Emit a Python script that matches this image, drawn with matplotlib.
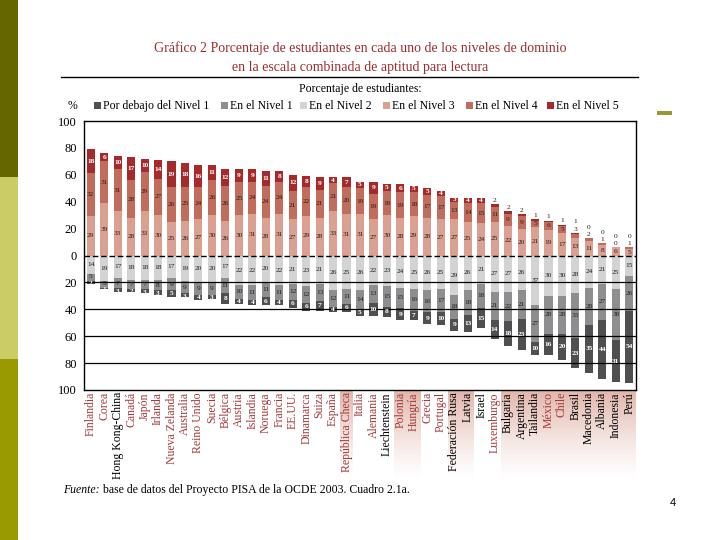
import numpy as np
import matplotlib
matplotlib.use("Agg")
import matplotlib.pyplot as plt
from matplotlib.patches import Rectangle
from matplotlib.lines import Line2D

# Data (percent of students per reading level)
countries = ["Finlandia", "Corea", "Hong Kong-China", "Canadá", "Japón", "Irlanda",
             "Nueva Zelanda", "Australia", "Reino Unido", "Suecia", "Bélgica", "Austria",
             "Islandia", "Noruega", "Francia", "EE.UU.", "Dinamarca", "Suiza", "España",
             "República Checa", "Italia", "Alemania", "Liechtenstein", "Polonia", "Hungría",
             "Grecia", "Portugal", "Federación Rusa", "Latvia", "Israel", "Luxemburgo",
             "Bulgaria", "Argentina", "Tailandia", "México", "Chile", "Brasil", "Macedonia",
             "Albania", "Indonesia", "Perú"]
nivel5 = [18, 6, 10, 17, 10, 14, 19, 18, 16, 11, 12, 9, 9, 11, 8, 12, 8, 9, 4, 7, 5,
          9, 5, 6, 5, 5, 4, 3, 4, 4, 2, 2, 2, 1, 1, 1, 1, 0, 0, 0, 0]
nivel4 = [32, 31, 31, 28, 29, 27, 26, 25, 24, 26, 26, 25, 24, 24, 24, 21, 22, 21, 21, 20, 19,
          19, 18, 19, 18, 17, 17, 13, 14, 15, 11, 9, 9, 5, 6, 5, 3, 2, 1, 0, 1]
nivel3 = [29, 39, 33, 28, 33, 30, 25, 26, 27, 30, 26, 30, 31, 28, 31, 27, 29, 28, 33, 31, 31,
          27, 30, 28, 29, 28, 27, 27, 25, 24, 25, 22, 20, 21, 19, 17, 13, 11, 8, 6, 5]
nivel2 = [14, 19, 17, 18, 18, 18, 17, 19, 20, 20, 17, 22, 22, 20, 22, 21, 23, 21, 26, 25, 26,
          22, 23, 24, 25, 26, 25, 29, 26, 21, 27, 27, 26, 37, 30, 30, 28, 24, 21, 25, 15]
nivel1 = [5, 5, 7, 7, 7, 8, 9, 9, 9, 9, 11, 10, 11, 11, 11, 12, 12, 13, 12, 11, 14,
          13, 15, 15, 16, 16, 17, 18, 18, 18, 21, 22, 21, 27, 28, 28, 33, 28, 27, 38, 26]
debajo1 = [2, 1, 3, 2, 3, 3, 5, 3, 4, 3, 8, 4, 4, 6, 4, 6, 6, 7, 4, 6, 5,
           10, 8, 9, 7, 9, 10, 9, 13, 15, 14, 18, 23, 10, 16, 20, 23, 35, 44, 31, 54]

# countries whose name is printed in black (the rest in red)
black_names = ["Hong Kong-China", "Liechtenstein", "Federación Rusa", "Latvia", "Israel",
               "Bulgaria", "Argentina", "Tailandia", "Brasil", "Macedonia", "Albania",
               "Indonesia", "Perú"]
# groups of names with a pink background
highlight = [("República Checa", "República Checa"), ("Polonia", "Hungría"),
             ("Federación Rusa", "Latvia"), ("Bulgaria", "Perú")]

legend_labels = ["Por debajo del Nivel 1", "En el Nivel 1", "En el Nivel 2",
                 "En el Nivel 3", "En el Nivel 4", "En el Nivel 5"]
colors = ["#4f4f51", "#8e8e90", "#d3d3d3", "#daa192", "#c26c5c", "#a6292c"]

serif = "Liberation Serif"
W, H = 720, 540


def fx(px):
    return px / W


def fy(py):
    return 1 - py / H


fig = plt.figure(figsize=(7.2, 5.4), dpi=100)

# left strip of the slide
for y0, y1, c in [(0, 177, "#666600"), (177, 359, "#cccc66"), (359, 540, "#999900")]:
    fig.add_artist(Rectangle((0, fy(y1)), fx(18), (y1 - y0) / H,
                             transform=fig.transFigure, color=c, lw=0))
fig.add_artist(Rectangle((fx(657), fy(115)), fx(15), 4 / H,
                         transform=fig.transFigure, color="#999933", lw=0))

# title
title_red = "#9b2d30"
fig.text(0.5, fy(48), "Gráfico 2 Porcentaje de estudiantes en cada uno de los niveles de dominio",
         ha="center", va="center", family=serif, size=10, color=title_red)
fig.text(0.5, fy(68), "en la escala combinada de aptitud para lectura",
         ha="center", va="center", family=serif, size=10, color=title_red)
fig.add_artist(Line2D([fx(61), fx(638)], [fy(77), fy(77)], color="black", lw=1,
                      transform=fig.transFigure))
fig.text(fx(360), fy(89), "Porcentaje de estudiantes:", ha="center", va="center",
         family=serif, size=8.5)

# legend row
fig.text(fx(72), fy(106), "%", ha="center", va="center", family=serif, size=8.5)
leg_x = [97, 224, 303, 386, 469, 550]
for lx, lab, c in zip(leg_x, legend_labels, colors):
    fig.add_artist(Rectangle((fx(lx - 3), fy(109)), 7 / W, 7 / H,
                             transform=fig.transFigure, color=c, lw=0))
    fig.text(fx(lx + 6), fy(106), lab, ha="left", va="center", family=serif, size=8.5)

# main axes
ax = fig.add_axes([fx(84), fy(390), fx(636) - fx(84), (390 - 121) / H])
n = len(countries)
x = np.arange(n)
bw = 0.6

n3 = np.array(nivel3)
n4 = np.array(nivel4)
n5 = np.array(nivel5)
l2 = np.array(nivel2)
l1 = np.array(nivel1)
b1 = np.array(debajo1)

ax.bar(x, n3, bw, color=colors[3], zorder=2)
ax.bar(x, n4, bw, bottom=n3, color=colors[4], zorder=2)
ax.bar(x, n5, bw, bottom=n3 + n4, color=colors[5], zorder=2)
ax.bar(x, -l2, bw, color=colors[2], zorder=2)
ax.bar(x, -l1, bw, bottom=-l2, color=colors[1], zorder=2)
ax.bar(x, -b1, bw, bottom=-(l2 + l1), color=colors[0], zorder=2)

ax.axhline(0, color="black", lw=1, ls=(0, (4, 2)), zorder=3)
for yy in [-20, -40, -60, -80]:
    ax.axhline(yy, color="black", lw=0.9, zorder=3)

# value labels
dark = "#2b1b1b"
fs = 5.3
for i in range(n):
    top = n3[i] + n4[i] + n5[i]
    ax.text(i, n3[i] / 2, str(n3[i]), ha="center", va="center", size=fs,
            color=dark, family=serif, zorder=4)
    above = top + 0.8
    if n4[i] >= 4:
        ax.text(i, n3[i] + n4[i] / 2, str(n4[i]), ha="center", va="center", size=fs,
                color=dark, family=serif, zorder=4)
    else:
        ax.text(i, above, str(n4[i]), ha="center", va="bottom", size=fs,
                color=dark, family=serif, zorder=4)
        above += 5.5
    if n5[i] >= 3:
        ax.text(i, n3[i] + n4[i] + n5[i] / 2, str(n5[i]), ha="center", va="center",
                size=fs, color="white", family=serif, weight="bold", zorder=4)
    else:
        ax.text(i, above, str(n5[i]), ha="center", va="bottom", size=fs,
                color=dark, family=serif, zorder=4)
    ax.text(i, -l2[i] / 2, str(l2[i]), ha="center", va="center", size=fs,
            color=dark, family=serif, zorder=4)
    ax.text(i, -l2[i] - l1[i] / 2 + (1 if l1[i] < 6 else 0), str(l1[i]), ha="center",
            va="center", size=fs, color=dark, family=serif, zorder=4)
    ax.text(i, -l2[i] - l1[i] - b1[i] / 2 - (1 if b1[i] < 4 else 0), str(b1[i]),
            ha="center", va="center", size=fs, color="white", family=serif,
            weight="bold", zorder=4)

ax.set_xlim(-0.5, n - 0.5)
ax.set_ylim(-100, 100)
yt = [100, 80, 60, 40, 20, 0, -20, -40, -60, -80, -100]
ax.set_yticks(yt)
ax.set_yticklabels([str(abs(v)) for v in yt], family=serif, size=9)
ax.set_xticks([])
ax.tick_params(axis="y", length=0, pad=5)
for s in ax.spines.values():
    s.set_linewidth(1)
    s.set_color("black")

# pink gradient behind some country names
steps = 40
for a, b in highlight:
    i0, i1 = countries.index(a), countries.index(b)
    for k in range(steps):
        y_top = -100 - k * 66 / steps
        ax.add_patch(Rectangle((i0 - 0.5, y_top - 66 / steps), i1 - i0 + 1, 66 / steps,
                               color="#dca99c", alpha=0.85 * (1 - k / steps) ** 1.3,
                               lw=0, clip_on=False, zorder=0))

for i, name in enumerate(countries):
    c = "black" if name in black_names else "#a3393b"
    ax.text(i, -101.5, name, rotation=90, ha="center", va="top", family=serif,
            size=8.5, color=c, clip_on=False)

# source
t1 = fig.text(fx(63), fy(490), "Fuente:", ha="left", va="center", family=serif,
              size=8.5, style="italic")
plt.annotate(" base de datos del Proyecto PISA de la OCDE 2003. Cuadro 2.1a.",
             xy=(1, 0.5), xycoords=t1, ha="left", va="center", family=serif, size=8.5)

fig.text(fx(673), fy(503), "4", ha="center", va="center", family="Liberation Sans", size=8)

fig.savefig("out.png", dpi=100)
